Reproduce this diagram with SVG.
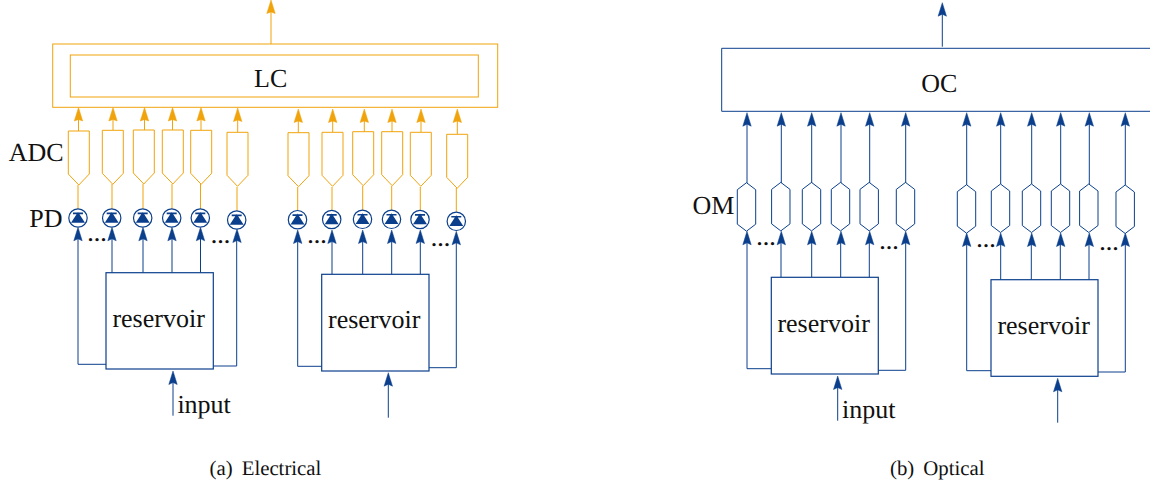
<svg xmlns="http://www.w3.org/2000/svg" width="1150" height="483" viewBox="0 0 1150 483">
<style>
text{font-family:"Liberation Serif","Times New Roman",serif;fill:#111;text-rendering:geometricPrecision}
.t{font-size:26px}
.c{font-size:20.8px;word-spacing:3.9px}
.d{font-size:20px;font-weight:bold;letter-spacing:1.5px}
.o{fill:none;stroke:#f0a30a;stroke-width:1}
.b{fill:none;stroke:#0b3f8c;stroke-width:1}
.box{fill:#fff;stroke:#0b3f8c;stroke-width:1.2}
.pd{fill:#fff;stroke:#0b3f8c;stroke-width:1.2}
.k{fill:#0b3f8c}
</style>
<defs>
<path id="ao" d="M0 0L4.2 13.5L0 12L-4.2 13.5Z" fill="#f0a30a" stroke="#f0a30a" stroke-width=".5"/>
<path id="ab" d="M0 0L4.2 13.5L0 11.5L-4.2 13.5Z" fill="#0b3f8c" stroke="#0b3f8c" stroke-width=".5"/>
<path id="adc" d="M-10.5 0H10.5V43L0 54L-10.5 43Z" class="o"/>
<path id="om" d="M0 0L9.2 7V41.5L0 48.5L-9.2 41.5V7Z" class="b"/>
<g id="pd"><circle r="9.2" class="pd"/><path d="M-5 -4.6H5M0 -4.6L5.5 4H-5.5Z" class="k" stroke="#0b3f8c" stroke-width="1.6"/></g>
</defs>

<g id="connectors">
<g class="o">
<path d="M271 44V6"/>
<path d="M78.5 131V115M113 130V115M144.5 130V115M172.5 130V115M201 130V115M237.7 132V115"/>
<path d="M78 185V209M112 184V209M143 184V209M172 184V209M200.5 184V209M237 187V211"/>
<path d="M298.3 132.7V115M332.7 132V115M364.3 132V115M392 132V115M421 132V115M457.3 134V115"/>
<path d="M297.7 187V211M332 187V211M362.7 186V211M391.7 186V211M420.3 187V211M456.3 188V212"/>
</g>
<g class="b">
<path d="M78 234V364.3H106M112 234V272.7M143 234V272.7M172 234V272.7M200.5 234V272.7M213.3 366H236.7V236"/>
<path d="M173 378V415.7"/>
<path d="M297.7 236V366.3H321.7M332 236V274.3M362.7 236V274.3M391.7 236V274.3M420.3 236V274.3M429 367.7H456.3V238"/>
<path d="M388.3 380V417.7"/>
<path d="M942.3 46.7V10"/>
<path d="M747 183V119M781.3 183V119M811.7 183V119M841 183V119M869.7 183V119M905.7 183V119"/>
<path d="M966.7 185V119M1000.7 184V119M1031.7 184V119M1060.7 184V119M1089.3 184V119M1125.3 185V119"/>
<path d="M747 238V368.7H771.3M781 238V277.3M811.7 238V277.3M840.7 238V277.3M869.3 238V277.3M878.3 370.3H905.7V238"/>
<path d="M837.7 383V420.7"/>
<path d="M966.7 240V370.7H991M1000.7 240V279.7M1031.3 240V279.7M1060.3 240V279.7M1089 240V279.7M1098 372H1125.3V240"/>
<path d="M1057.7 385V422.7"/>
</g>
<use href="#ao" x="271" y="0"/>
<use href="#ao" x="78.5" y="107.5"/><use href="#ao" x="113" y="107.5"/><use href="#ao" x="144.5" y="107.5"/><use href="#ao" x="172.5" y="107.5"/><use href="#ao" x="201" y="107.5"/><use href="#ao" x="237.7" y="108"/>
<use href="#ao" x="298.3" y="109"/><use href="#ao" x="332.7" y="109"/><use href="#ao" x="364.3" y="109"/><use href="#ao" x="392" y="109"/><use href="#ao" x="421" y="109"/><use href="#ao" x="457.3" y="109"/>
<use href="#ab" x="78" y="227.3"/><use href="#ab" x="112" y="227.3"/><use href="#ab" x="143" y="227.3"/><use href="#ab" x="172" y="227.3"/><use href="#ab" x="200.5" y="227.3"/><use href="#ab" x="237" y="229"/>
<use href="#ab" x="173" y="371"/>
<use href="#ab" x="297.7" y="230"/><use href="#ab" x="332" y="230"/><use href="#ab" x="362.7" y="230"/><use href="#ab" x="391.7" y="230"/><use href="#ab" x="420.3" y="230"/><use href="#ab" x="456.3" y="231.3"/>
<use href="#ab" x="388.3" y="372.7"/>
<use href="#ab" x="942.3" y="2.7"/>
<use href="#ab" x="747" y="112.7"/><use href="#ab" x="781.3" y="112.7"/><use href="#ab" x="811.7" y="112.7"/><use href="#ab" x="841" y="112.7"/><use href="#ab" x="869.7" y="112.7"/><use href="#ab" x="905.7" y="112.7"/>
<use href="#ab" x="966.7" y="112.7"/><use href="#ab" x="1000.7" y="112.7"/><use href="#ab" x="1031.7" y="112.7"/><use href="#ab" x="1060.7" y="112.7"/><use href="#ab" x="1089.3" y="112.7"/><use href="#ab" x="1125.3" y="112.7"/>
<use href="#ab" x="747" y="231.3"/><use href="#ab" x="781.3" y="231.3"/><use href="#ab" x="811.7" y="231.3"/><use href="#ab" x="841" y="231.3"/><use href="#ab" x="869.7" y="231.3"/><use href="#ab" x="905.7" y="231.3"/>
<use href="#ab" x="837.7" y="376"/>
<use href="#ab" x="966.7" y="233"/><use href="#ab" x="1000.7" y="233"/><use href="#ab" x="1031.7" y="233"/><use href="#ab" x="1060.7" y="233"/><use href="#ab" x="1089.3" y="233"/><use href="#ab" x="1125.3" y="233"/>
<use href="#ab" x="1057.7" y="378.3"/>
</g>

<g id="lc">
<rect x="52.7" y="44" width="445" height="63.3" class="o"/>
<rect x="70.3" y="55" width="408" height="42" class="o"/>
<text x="254" y="86.7" class="t">LC</text>
</g>
<g id="oc">
<path d="M1150 48.3H721.7V111.3H1150" fill="#fff" stroke="#0b3f8c" stroke-width="1"/>
<text x="921.3" y="91.7" class="t">OC</text>
</g>

<g id="adc-a1">
<use href="#adc" x="78.8" y="131"/><use href="#adc" x="112.8" y="130.3"/><use href="#adc" x="143.8" y="130"/><use href="#adc" x="172.8" y="130"/><use href="#adc" x="201.2" y="130.3"/><use href="#adc" x="237.5" y="132.3"/>
</g>
<g id="adc-a2">
<use href="#adc" x="298.5" y="132.7"/><use href="#adc" x="332.5" y="132.3"/><use href="#adc" x="363.2" y="131.7"/><use href="#adc" x="392.2" y="131.7"/><use href="#adc" x="420.8" y="132.3"/><use href="#adc" x="457.2" y="134.3"/>
</g>
<g id="pd-a1">
<use href="#pd" x="78" y="218"/><use href="#pd" x="111.7" y="218"/><use href="#pd" x="142.7" y="218"/><use href="#pd" x="171.7" y="218"/><use href="#pd" x="200.3" y="218"/><use href="#pd" x="236.7" y="220"/>
</g>
<g id="pd-a2">
<use href="#pd" x="297.5" y="219.7"/><use href="#pd" x="331.7" y="219.5"/><use href="#pd" x="362.5" y="219.3"/><use href="#pd" x="391.5" y="219.3"/><use href="#pd" x="420" y="219.5"/><use href="#pd" x="456.3" y="221.3"/>
</g>
<g id="om-b1">
<use href="#om" x="746.5" y="182.7"/><use href="#om" x="780.8" y="182.4"/><use href="#om" x="811.5" y="182.4"/><use href="#om" x="840.5" y="182.4"/><use href="#om" x="869.2" y="182.4"/><use href="#om" x="905.5" y="182.4"/>
</g>
<g id="om-b2">
<use href="#om" x="966.5" y="184.7"/><use href="#om" x="1000.5" y="184"/><use href="#om" x="1031.5" y="184"/><use href="#om" x="1060.5" y="184"/><use href="#om" x="1088.8" y="184"/><use href="#om" x="1125.2" y="185"/>
</g>

<g id="res-a1"><rect x="106" y="272.7" width="107.3" height="96.3" class="box"/><text x="112.4" y="326.7" class="t">reservoir</text></g>
<g id="res-a2"><rect x="321.7" y="274.3" width="107.3" height="96.7" class="box"/><text x="328" y="328.3" class="t">reservoir</text></g>
<g id="res-b1"><rect x="771.3" y="277.3" width="107" height="96.7" class="box"/><text x="777.4" y="331.7" class="t">reservoir</text></g>
<g id="res-b2"><rect x="991" y="279.7" width="107" height="96.6" class="box"/><text x="997.4" y="334" class="t">reservoir</text></g>

<g id="labels">
<text x="8.8" y="161" class="t">ADC</text>
<text x="29.2" y="226.7" class="t">PD</text>
<text x="692.6" y="214.3" class="t">OM</text>
<text x="177.4" y="412.7" class="t">input</text>
<text x="842" y="417.7" class="t">input</text>
<text x="88" y="240.5" class="d">...</text>
<text x="211.5" y="243" class="d">...</text>
<text x="308" y="242.5" class="d">...</text>
<text x="431.5" y="245.5" class="d">...</text>
<text x="757" y="244.5" class="d">...</text>
<text x="880" y="248.5" class="d">...</text>
<text x="977" y="246.5" class="d">...</text>
<text x="1100" y="249.5" class="d">...</text>
<text x="209.5" y="475" class="c">(a) Electrical</text>
<text x="890" y="475" class="c">(b) Optical</text>
</g>
</svg>
